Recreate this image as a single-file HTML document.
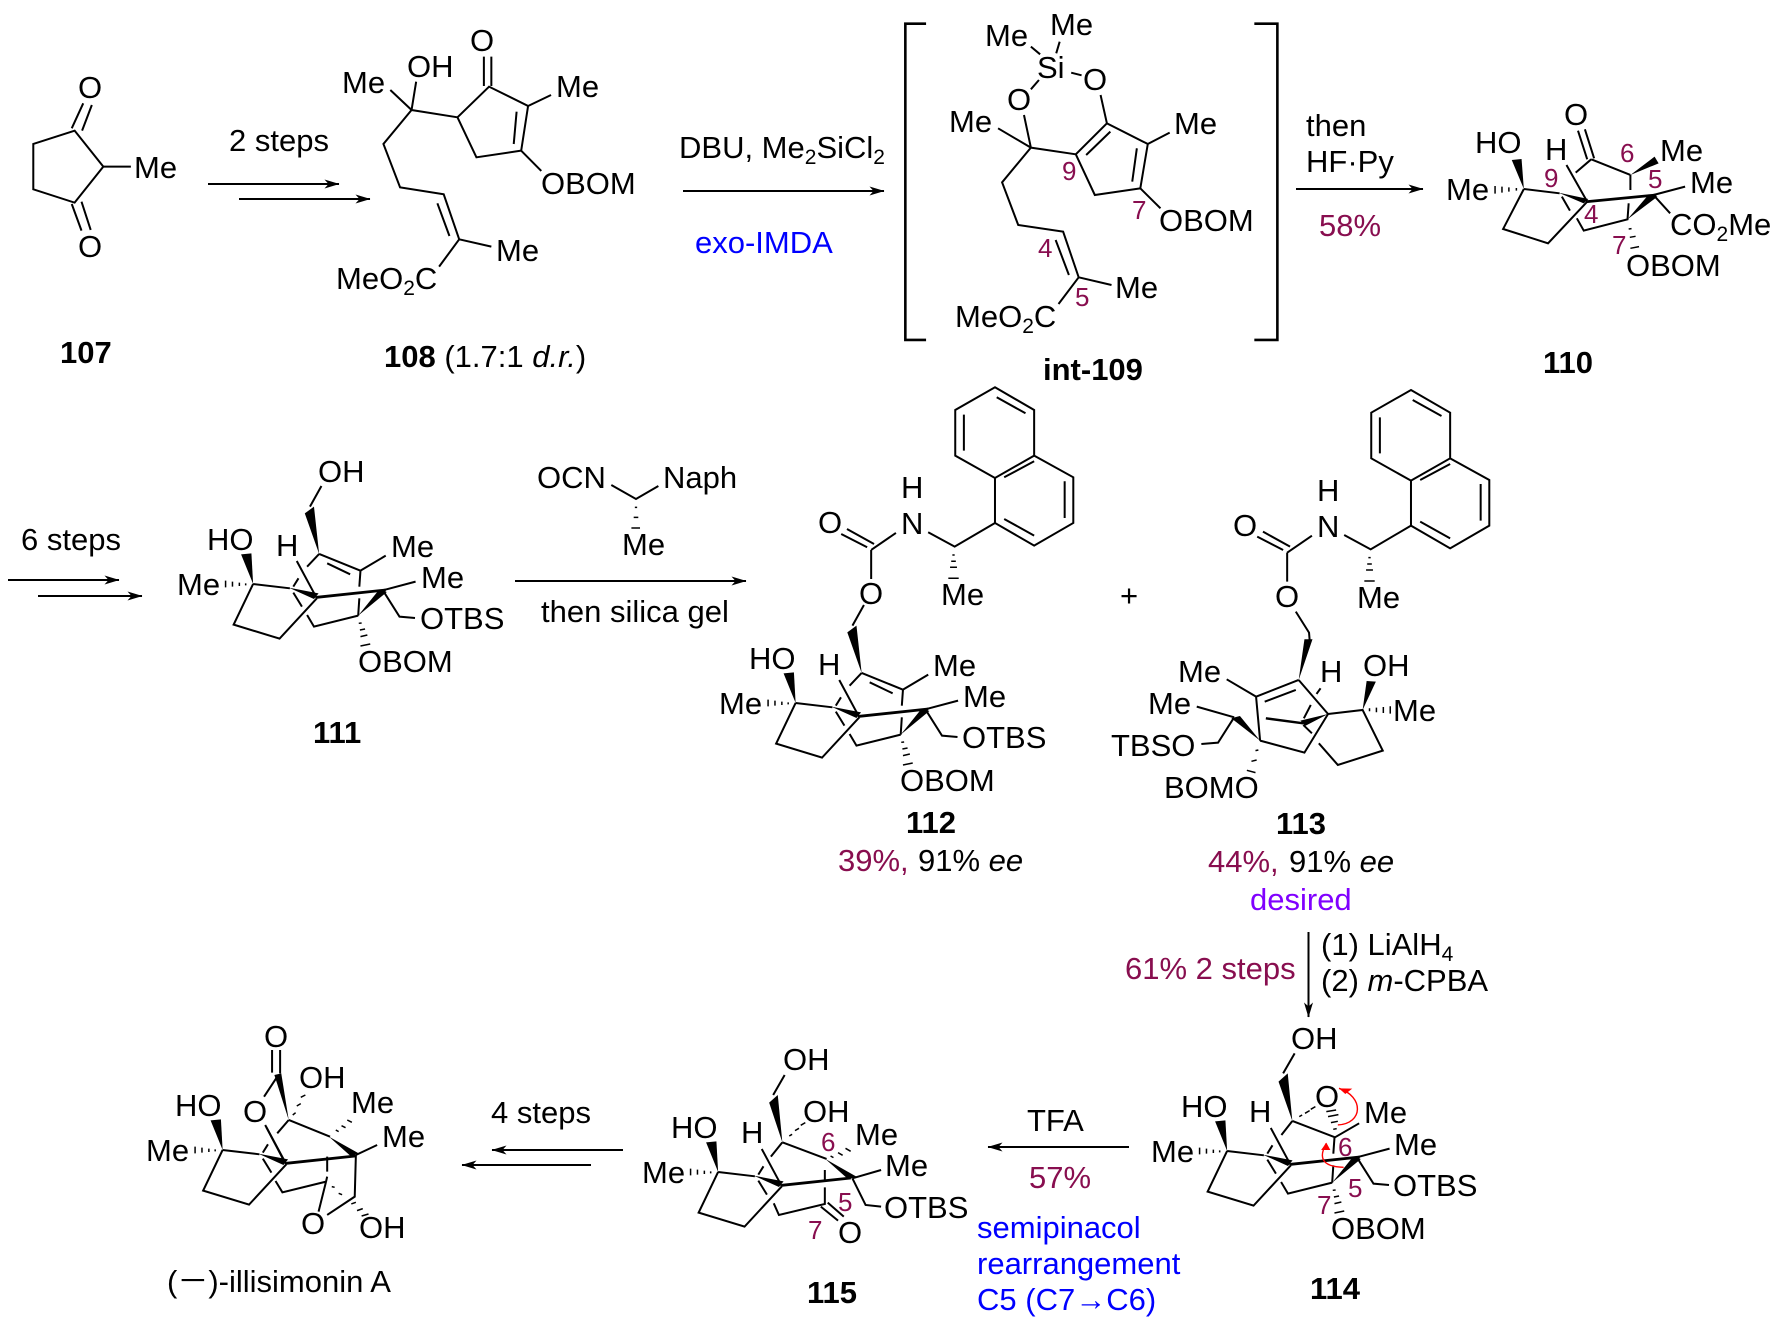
<!DOCTYPE html>
<html><head><meta charset="utf-8"><title>Illisimonin A synthesis</title>
<style>
html,body{margin:0;padding:0;background:#fff}
svg{display:block}
path,polyline{vector-effect:non-scaling-stroke;fill:none;stroke:#000;stroke-width:2;stroke-linejoin:miter}
.b{stroke-width:2.8}
.h{stroke-width:1.5}
polygon{fill:#000;stroke:none}
line{stroke:#000;stroke-width:2}
text{font-family:"Liberation Sans","Noto Sans CJK SC",sans-serif;font-size:31px;fill:#000;transform:translate(-1px,0)}
.l{font-weight:bold}
.n{font-size:26px;fill:#880e4f}
.y{fill:#880e4f}
.u{fill:#0000ff}
.s{font-size:21px}
</style></head><body>
<svg xmlns="http://www.w3.org/2000/svg" width="1783" height="1328" viewBox="0 0 1783 1328">
<defs>
<marker id="a" viewBox="0 0 15 9" markerWidth="15" markerHeight="9" refX="14.5" refY="4.5" orient="auto" markerUnits="userSpaceOnUse"><path d="M0,0L15,4.5L0,9L4,4.5Z" style="fill:#000;stroke:none"/></marker>
<g id="L" transform="translate(0,390) scale(.574,.3333)">
<polygon points="441,582 420,493 438,490"/>
<polygon points="503,593 555,610 547,627"/>
<path d="M441,582L505,595M441,582L407,704L487,746L552,625M517,513L552,625M511,608L526,650M520,565L511,590"/>
<path class="b" d="M552,622L672,600"/>
<path class="h" d="M428,580V586M417,578V588M405,575V590M393,572V592"/>
</g>
<g id="R" transform="translate(0,390) scale(.574,.3333)">
<polygon points="624,677 660,600 674,606"/>
<path d="M667,601L724,575M667,601L696,680L723,684M624,677L547,710L535,675M628,542L626,590M626,625L624,677"/>
<path class="h" d="M625,700L630,699M627,720L636,717M628,740L640,735M628,768L645,762"/>
</g>
<g id="T" transform="translate(0,390) scale(.574,.3333)">
<polygon points="556,492 531,370 547,350"/>
<path d="M560,288L540,350M556,492L628,542M570,520L610,553M628,542L672,497M556,492L535,530"/>
</g>
<g id="N" transform="translate(880,390) scale(.5759,.3333)">
<path d="M922,0L990,68L990,205L922,272L853,205L853,68ZM990,205L1058,270L1058,407L990,475L922,407L922,272M925,30L975,78M868,82V190M938,270L990,222M1043,282V392M938,395L990,445M922,407L852,478L806,435M707,488L750,437M655,440L700,480M665,425L712,470M707,488V575"/>
<path class="h" d="M848,503H852M846,522H854M844,540H856M841,573H859"/>
</g>
</defs>

<!-- 107 / 108 -->
<g transform="scale(.574,.3333)">
<path d="M130,392L58,432V568L130,608L180,500ZM180,500H228M125,385L145,310M143,392L160,315M125,612L142,692M142,605L158,690"/>
<path d="M680,270L717,330M725,245L717,330L797,352M717,330L668,432L697,562L773,583L800,718M762,610L783,708M800,718L856,740M800,718L765,800M797,352L852,260L920,318L908,452L830,472ZM900,335L895,432M843,170V258M856,170V258M920,318L960,285M908,452L943,513"/>
</g>
<text x="79" y="98">O</text><text x="135" y="178">Me</text><text x="79" y="257">O</text>
<text x="61" y="363" class="l">107</text>
<text x="343" y="93">Me</text><text x="408" y="77">OH</text><text x="471" y="51">O</text><text x="557" y="97">Me</text>
<text x="542" y="194">OBOM</text><text x="497" y="261">Me</text>
<text x="337" y="289">MeO<tspan class="s" dy="6">2</tspan><tspan dy="-6">C</tspan></text>
<text x="385" y="367"><tspan class="l">108</tspan> (1.7:1 <tspan font-style="italic">d.r.</tspan>)</text>
<text x="230" y="151">2 steps</text>
<path d="M208,184H339" marker-end="url(#a)"/><path d="M239,199H370" marker-end="url(#a)"/>
<text x="680" y="158">DBU, Me<tspan class="s" dy="6">2</tspan><tspan dy="-6">SiCl</tspan><tspan class="s" dy="6">2</tspan></text>
<path d="M683,191H884" marker-end="url(#a)"/>
<text x="696" y="253" class="u">exo-IMDA</text>

<!-- int-109 -->
<g transform="translate(880,0) scale(.5759,.3333)">
<path style="stroke-width:2.6" d="M80,71H44V1020H80M650,71H690V1020H650"/>
<path d="M262,140L278,163M312,125L306,160M332,218L350,226M276,240L262,268M250,345L262,443M205,385L262,443L340,463M262,443L212,547L240,675L318,695L345,832M305,720L328,825M345,832L402,855M345,832L310,912M340,463L394,370L465,432L452,565L373,585ZM358,465L400,395M446,445L438,545M394,370L383,285M465,432L503,398M452,565L487,625"/>
</g>
<text x="986" y="46">Me</text><text x="1051" y="35">Me</text><text x="1038" y="78">Si</text><text x="1084" y="90">O</text><text x="1008" y="110">O</text>
<text x="950" y="132">Me</text><text x="1175" y="134">Me</text><text x="1160" y="231">OBOM</text><text x="1116" y="298">Me</text>
<text x="956" y="327">MeO<tspan class="s" dy="6">2</tspan><tspan dy="-6">C</tspan></text>
<text x="1044" y="380" class="l">int-109</text>
<text x="1063" y="180" class="n">9</text><text x="1133" y="219" class="n">7</text><text x="1039" y="257" class="n">4</text><text x="1076" y="306" class="n">5</text>

<text x="1307" y="136">then</text><text x="1307" y="172">HF·Py</text>
<path d="M1296,189H1423" marker-end="url(#a)"/>
<text x="1320" y="236" class="y">58%</text>

<!-- 110 -->
<g transform="translate(880,0) scale(.5759,.3333)">
<polygon points="1303,525 1345,470 1352,490"/>
<polygon points="1118,567 1097,480 1114,477"/>
<polygon points="1178,578 1230,597 1222,610"/>
<polygon points="1298,658 1335,583 1350,590"/>
<path d="M1212,392L1228,478M1224,388L1240,475M1235,478L1303,525M1235,478L1208,518M1118,567L1180,580M1118,567L1082,687L1160,730L1228,605M1192,495L1228,605M1303,525V570M1300,610L1298,658L1222,692L1210,655M1343,585L1398,560M1343,585L1372,640M1184,590L1198,632"/>
<path class="b" d="M1228,605L1348,585"/>
<path class="h" d="M1105,564V572M1092,562V575M1080,560V578M1068,558V581M1300,687L1305,686M1302,712L1312,709M1303,745L1318,740"/>
</g>
<text x="1565" y="125">O</text><text x="1476" y="153">HO</text><text x="1546" y="160">H</text><text x="1447" y="200">Me</text>
<text x="1691" y="193">Me</text><text x="1661" y="161">Me</text>
<text x="1671" y="235">CO<tspan class="s" dy="6">2</tspan><tspan dy="-6">Me</tspan></text>
<text x="1627" y="276">OBOM</text><text x="1544" y="373" class="l">110</text>
<text x="1621" y="162" class="n">6</text><text x="1649" y="188" class="n">5</text><text x="1545" y="187" class="n">9</text><text x="1585" y="223" class="n">4</text><text x="1613" y="254" class="n">7</text>

<!-- 111 -->
<use href="#L"/><use href="#R"/><use href="#T"/>
<text x="319" y="482">OH</text><text x="208" y="550">HO</text><text x="277" y="556">H</text><text x="392" y="557">Me</text><text x="422" y="588">Me</text><text x="178" y="595">Me</text><text x="421" y="629">OTBS</text><text x="359" y="672">OBOM</text>
<text x="314" y="743" class="l">111</text>
<text x="22" y="550">6 steps</text>
<path d="M8,580H119" marker-end="url(#a)"/><path d="M38,596H142" marker-end="url(#a)"/>

<!-- reagent -->
<text x="538" y="488">OCN</text><text x="664" y="488">Naph</text><text x="623" y="555">Me</text>
<g transform="translate(0,390) scale(.574,.3333)">
<path d="M1065,285L1108,327L1147,288"/>
<path class="h" d="M1106,352H1110M1104,382H1112M1100,414H1115"/>
</g>
<path d="M515,581H746" marker-end="url(#a)"/>
<text x="542" y="622">then silica gel</text>

<!-- 112 -->
<g transform="translate(-416,-2.7)"><use href="#N"/></g>
<g transform="translate(542.5,119)"><use href="#L"/><use href="#R"/><use href="#T"/></g>
<text x="819" y="533">O</text><text x="902" y="534">N</text><text x="902" y="498">H</text><text x="942" y="605">Me</text><text x="860" y="604">O</text>
<text x="750" y="669">HO</text><text x="819" y="675">H</text><text x="720" y="714">Me</text><text x="934" y="676">Me</text><text x="964" y="707">Me</text><text x="963" y="748">OTBS</text><text x="901" y="791">OBOM</text>
<text x="907" y="833" class="l">112</text>
<text x="839" y="871" class="y">39%,</text><text x="919" y="871">91% <tspan font-style="italic">ee</tspan></text>
<text x="1121" y="606">+</text>

<!-- 113 -->
<use href="#N"/>
<g transform="translate(880,390) scale(.5759,.3333)">
<polygon points="727,870 737,748 751,748"/>
<polygon points="778,972 730,992 738,1008"/>
<polygon points="838,960 845,873 861,875"/>
<polygon points="660,1052 610,985 625,978"/>
<path d="M722,665L745,728L746,750M727,870L653,920M668,935L722,900M653,920L602,868M727,870L778,972M765,895L758,912M748,945L736,985M778,972L838,960L873,1082L795,1125L762,1060M778,972L737,1088L660,1052M653,920L660,1052M615,982L550,950M615,982L587,1058L558,1062M735,1005L750,1030"/>
<path style="stroke-width:2.4" d="M670,985L735,1000"/>
<path class="h" d="M850,955V964M862,953V967M874,951V969M886,949V971M657,1080L652,1082M654,1110L645,1114M652,1148L637,1141"/>
</g>
<text x="1234" y="536">O</text><text x="1318" y="537">N</text><text x="1318" y="501">H</text><text x="1358" y="608">Me</text><text x="1276" y="607">O</text>
<text x="1179" y="682">Me</text><text x="1149" y="714">Me</text><text x="1112" y="756">TBSO</text><text x="1165" y="798">BOMO</text><text x="1321" y="682">H</text><text x="1364" y="676">OH</text><text x="1394" y="721">Me</text>
<text x="1277" y="834" class="l">113</text>
<text x="1209" y="872" class="y">44%,</text><text x="1290" y="872">91% <tspan font-style="italic">ee</tspan></text>
<text x="1251" y="910" style="fill:#8000ff">desired</text>

<path d="M1308.5,932V1017" marker-end="url(#a)"/>
<text x="1126" y="979" class="y">61% 2 steps</text>
<text x="1322" y="955">(1) LiAlH<tspan class="s" dy="6">4</tspan></text>
<text x="1322" y="991">(2) <tspan font-style="italic">m</tspan>-CPBA</text>

<!-- 114 -->
<g transform="translate(974,567)"><use href="#L"/><use href="#R"/></g>
<g transform="translate(880,900) scale(.5759,.3333)">
<polygon points="716,663 692,545 708,520"/>
<path d="M720,460L700,520M716,663L790,712L832,670M716,663L697,705"/>
<path class="h" d="M728,650L733,645M738,640L746,632M748,628L756,620M787,688L793,686M783,668L795,664M778,650L796,644M775,635L792,630"/>
<path d="M795,675C840,670 840,590 797,565" style="stroke:#f00;stroke-width:1.4"/>
<path d="M805,802C765,800 762,770 775,730" style="stroke:#f00;stroke-width:1.4"/>
<polygon points="797,565 820,566 808,582" style="fill:#f00"/>
<polygon points="775,728 782,750 766,750" style="fill:#f00"/>
</g>
<text x="1292" y="1049">OH</text><text x="1316" y="1107">O</text><text x="1365" y="1123">Me</text><text x="1395" y="1155">Me</text><text x="1394" y="1196">OTBS</text><text x="1332" y="1239">OBOM</text>
<text x="1182" y="1117">HO</text><text x="1250" y="1122">H</text><text x="1152" y="1162">Me</text>
<text x="1311" y="1299" class="l">114</text>
<text x="1339" y="1156" class="n">6</text><text x="1349" y="1197" class="n">5</text><text x="1318" y="1214" class="n">7</text>

<text x="1028" y="1131">TFA</text>
<path d="M1129,1147H988" marker-end="url(#a)"/>
<text x="1030" y="1188" class="y">57%</text>
<text x="978" y="1238" class="u">semipinacol</text>
<text x="978" y="1274" class="u">rearrangement</text>
<text x="978" y="1310" class="u">C5 (C7→C6)</text>

<!-- 115 -->
<g transform="translate(465,588)"><use href="#L"/></g>
<g transform="translate(0,980) scale(.574,.3333)">
<polygon points="1363,487 1340,368 1355,345"/>
<polygon points="1438,537 1492,590 1478,598"/>
<path d="M1367,285L1347,345M1363,487L1440,537M1363,487L1343,530M1485,595L1535,570M1485,595L1508,675L1535,680M1437,570V605M1437,622V672L1357,705L1348,670M1430,680L1460,722M1442,668L1470,710"/>
<path class="h" d="M1375,468L1380,463M1385,452L1392,445M1395,436L1403,428M1447,528L1452,533M1460,518L1468,526M1473,505L1482,514"/>
</g>
<text x="784" y="1070">OH</text><text x="804" y="1122">OH</text><text x="856" y="1145">Me</text><text x="886" y="1176">Me</text><text x="885" y="1218">OTBS</text><text x="839" y="1243">O</text>
<text x="672" y="1138">HO</text><text x="742" y="1143">H</text><text x="643" y="1183">Me</text>
<text x="808" y="1303" class="l">115</text>
<text x="822" y="1151" class="n">6</text><text x="839" y="1211" class="n">5</text><text x="809" y="1239" class="n">7</text>

<text x="492" y="1123">4 steps</text>
<path d="M623,1150H492" marker-end="url(#a)"/><path d="M591,1165H462" marker-end="url(#a)"/>

<!-- illisimonin -->
<g transform="translate(-30.5,566)"><use href="#L"/></g>
<g transform="translate(0,980) scale(.574,.3333)">
<polygon points="503,420 478,285 490,280"/>
<polygon points="573,470 625,520 612,530"/>
<path d="M474,210V278M488,210V280M483,290L460,350M462,435L497,550M503,420L575,470M503,420L483,460M620,525L657,495M620,525L618,650L570,705M570,530V575M570,590L568,605L492,637L480,603M568,605L555,695"/>
<path class="h" d="M510,405L515,398M517,378L524,371M524,352L532,345M585,450L590,455M595,437L602,443M605,420L613,427M578,620L583,622M590,640L596,644M612,672L620,667M622,692L632,686M630,708L642,702"/>
</g>
<text x="265" y="1047">O</text><text x="244" y="1122">O</text><text x="300" y="1088">OH</text><text x="352" y="1113">Me</text><text x="383" y="1147">Me</text><text x="302" y="1234">O</text><text x="360" y="1238">OH</text>
<text x="176" y="1116">HO</text><text x="147" y="1161">Me</text>
<text x="168" y="1292">(－)-illisimonin A</text>
</svg>
</body></html>
